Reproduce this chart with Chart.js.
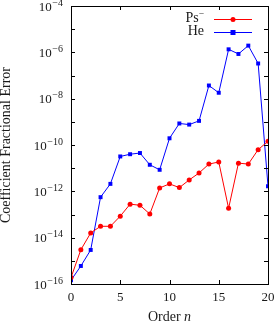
<!DOCTYPE html>
<html>
<head>
<meta charset="utf-8">
<script src="https://cdn.jsdelivr.net/npm/chart.js@4/dist/chart.umd.min.js"></script>
<style>
html,body{margin:0;padding:0;background:#fff;}
#wrap{width:277px;height:322px;position:relative;}
</style>
</head>
<body>
<div id="wrap"><canvas id="c" width="277" height="322"></canvas></div>
<script>
// ---- data ----
const orders = [0,1,2,3,4,5,6,7,8,9,10,11,12,13,14,15,16,17,18,19,20];
const psValues = [1.9e-16,3.0e-15,1.6e-14,3.1e-14,3.1e-14,8.5e-14,2.8e-13,2.5e-13,1.05e-13,1.4e-12,2.1e-12,1.45e-12,3.1e-12,6.2e-12,1.5e-11,1.85e-11,1.85e-13,1.65e-11,1.5e-11,6.3e-11,1.45e-10];
const heValues = [1.45e-16,6.0e-16,2.95e-15,5.6e-13,2.1e-12,3.2e-11,4.0e-11,4.5e-11,1.4e-11,8.5e-12,1.95e-10,8.5e-10,7.6e-10,1.1e-9,3.7e-8,1.8e-8,1.35e-6,8.5e-7,1.95e-6,3.3e-7,1.65e-12];
const yLabelExponents = [-16,-14,-12,-10,-8,-6,-4];
const yMinorExponents = [-16,-15,-14,-13,-12,-11,-10,-9,-8,-7,-6,-5,-4];
const xTickValues = [0,5,10,15,20];
const seriesNames = ['Ps', 'He'];
const seriesSup = ['\u2212', ''];
const yTitle = 'Coefficient Fractional Error';
const xTitleMain = 'Order ';
const xTitleVar = 'n';

const FONT = '"Liberation Serif","DejaVu Serif",serif';
const RED = 'rgb(255,0,0)';
const BLUE = 'rgb(0,0,255)';
const TXT = '#1a1a1a';

const framePlugin = {
  id: 'frame',
  afterDraw(chart) {
    const ctx = chart.ctx;
    const a = chart.chartArea;
    const xs = chart.scales.x, ys = chart.scales.y;
    ctx.save();
    ctx.strokeStyle = '#000';
    ctx.lineWidth = 1;
    ctx.strokeRect(Math.round(a.left)+0.5, Math.round(a.top)+0.5, Math.round(a.right-a.left), Math.round(a.bottom-a.top));
    const tl = 4;
    ctx.beginPath();
    yMinorExponents.forEach(e => {
      const y = Math.round(ys.getPixelForValue(Number('1e' + e))) + 0.5;
      ctx.moveTo(a.left, y); ctx.lineTo(a.left + tl, y);
      ctx.moveTo(a.right, y); ctx.lineTo(a.right - tl, y);
    });
    xTickValues.forEach(v => {
      const x = Math.round(xs.getPixelForValue(v)) + 0.5;
      ctx.moveTo(x, a.top); ctx.lineTo(x, a.top + tl);
      ctx.moveTo(x, a.bottom); ctx.lineTo(x, a.bottom - tl);
    });
    ctx.stroke();

    ctx.fillStyle = TXT;
    ctx.textBaseline = 'alphabetic';
    // y tick labels with superscript exponents
    yLabelExponents.forEach(e => {
      const y = ys.getPixelForValue(Number('1e' + e));
      const expStr = '\u2212' + String(Math.abs(e));
      ctx.font = '10px ' + FONT;
      const we = ctx.measureText(expStr).width;
      ctx.font = '13px ' + FONT;
      const wb = ctx.measureText('10').width;
      const right = a.left - 8;
      ctx.textAlign = 'left';
      ctx.fillText('10', right - we - wb - 0.5, y + 4.5);
      ctx.font = '10px ' + FONT;
      ctx.fillText(expStr, right - we, y - 0.5);
    });

    // axis titles
    ctx.font = '14px ' + FONT;
    ctx.textBaseline = 'middle';
    ctx.textAlign = 'center';
    ctx.save();
    ctx.translate(6.5, (a.top + a.bottom) / 2);
    ctx.rotate(-Math.PI / 2);
    ctx.fillText(yTitle, 0, 0);
    ctx.restore();
    const w1 = ctx.measureText(xTitleMain).width;
    ctx.font = 'italic 14px ' + FONT;
    const w2 = ctx.measureText(xTitleVar).width;
    const cx = (a.left + a.right) / 2;
    const startX = cx - (w1 + w2) / 2;
    ctx.textAlign = 'left';
    ctx.font = '14px ' + FONT;
    ctx.fillText(xTitleMain, startX, 317);
    ctx.font = 'italic 14px ' + FONT;
    ctx.fillText(xTitleVar, startX + w1, 317);

    // legend
    const legendItems = [
      {i: 0, color: RED, style: 'circle', y: 18.5},
      {i: 1, color: BLUE, style: 'rect', y: 31.5}
    ];
    legendItems.forEach(it => {
      const right = 204;
      ctx.fillStyle = TXT;
      ctx.textAlign = 'left';
      ctx.textBaseline = 'middle';
      ctx.font = '9.5px ' + FONT;
      const ws = seriesSup[it.i] ? ctx.measureText(seriesSup[it.i]).width : 0;
      ctx.font = '14px ' + FONT;
      const wn = ctx.measureText(seriesNames[it.i]).width;
      ctx.fillText(seriesNames[it.i], right - ws - wn, it.y);
      if (ws) { ctx.font = '9.5px ' + FONT; ctx.fillText(seriesSup[it.i], right - ws, it.y - 4); }
      ctx.strokeStyle = it.color;
      ctx.lineWidth = 1;
      const ly = Math.round(it.y) + 0.5;
      ctx.beginPath();
      ctx.moveTo(214, ly); ctx.lineTo(252, ly);
      ctx.stroke();
      ctx.fillStyle = it.color;
      if (it.style === 'circle') {
        ctx.beginPath(); ctx.arc(233, ly, 2.5, 0, Math.PI * 2); ctx.fill();
      } else {
        ctx.fillRect(230.5, ly - 2.5, 5, 5);
      }
    });
    ctx.restore();
  }
};

new Chart(document.getElementById('c'), {
  type: 'line',
  data: {
    datasets: [
      {label: 'Ps\u207B', data: orders.map((n,i)=>({x:n, y:psValues[i]})), borderColor: RED, backgroundColor: RED, borderWidth: 1, pointStyle: 'circle', pointRadius: 2.5, pointBorderWidth: 0, tension: 0},
      {label: 'He', data: orders.map((n,i)=>({x:n, y:heValues[i]})), borderColor: BLUE, backgroundColor: BLUE, borderWidth: 1, pointStyle: 'rect', pointRadius: 2.8, pointBorderWidth: 0, tension: 0}
    ]
  },
  options: {
    responsive: false,
    animation: false,
    devicePixelRatio: 1,
    layout: {padding: {top: 6, right: 9, bottom: 0, left: 0}},
    plugins: {legend: {display: false}, tooltip: {enabled: false}},
    scales: {
      x: {
        type: 'linear', min: 0, max: 20,
        grid: {display: false, drawTicks: false},
        border: {display: false},
        afterBuildTicks: s => { s.ticks = xTickValues.map(v => ({value: v})); },
        afterFit: s => { s.height = 38; s.paddingLeft = 0; s.paddingRight = 0; },
        ticks: {padding: 6, color: TXT, font: {family: FONT, size: 13}, maxRotation: 0, callback: v => String(v)}
      },
      y: {
        type: 'logarithmic', min: 1e-16, max: 1e-4,
        grid: {display: false, drawTicks: false},
        border: {display: false},
        afterBuildTicks: s => { s.ticks = yLabelExponents.map(e => ({value: Number('1e' + e)})); },
        afterFit: s => { s.width = 71; s.paddingTop = 0; s.paddingBottom = 0; },
        ticks: {display: false, padding: 8}
      }
    }
  },
  plugins: [framePlugin]
});
</script>
</body>
</html>
